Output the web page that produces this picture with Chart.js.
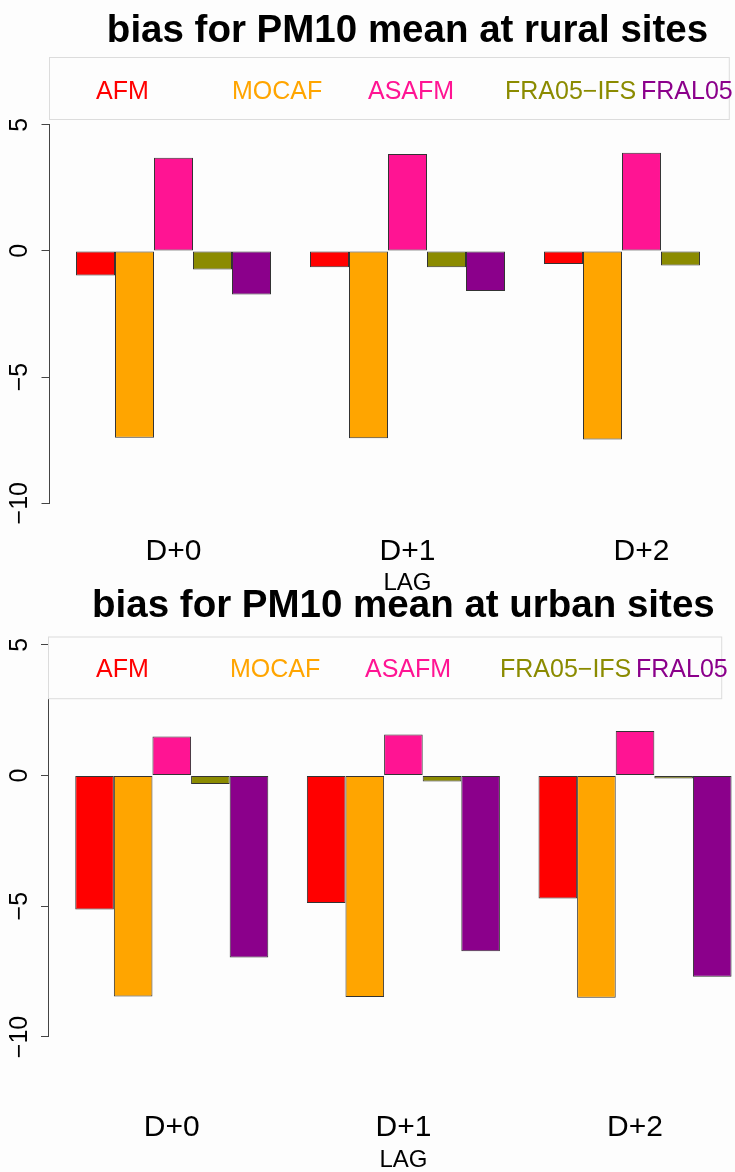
<!DOCTYPE html>
<html>
<head>
<meta charset="utf-8">
<script src="https://cdn.jsdelivr.net/npm/chart.js@4.4.1/dist/chart.umd.min.js"></script>
<style>
    html, body { margin: 0; padding: 0; background: #fdfdfd; }
    body { width: 735px; height: 1172px; overflow: hidden; position: relative; }
    canvas { position: absolute; left: 0; }
</style>
</head>
<body>
<canvas id="rural" width="780" height="600" style="top:0"></canvas>
<canvas id="urban" width="780" height="592" style="top:580px"></canvas>
<script>
const models = ["AFM", "MOCAF", "ASAFM", "FRA05\u2212IFS", "FRAL05"];
const modelColors = ["#ff0000", "#ffa500", "#ff1493", "#8b8b00", "#8b008b"];
const lags = ["D+0", "D+1", "D+2"];
const yTicks = [-10, -5, 0, 5];

// bias per model, one value per lag (D+0, D+1, D+2)
const ruralAFM = [-0.97, -0.65, -0.52];
const ruralMOCAF = [-7.40, -7.42, -7.47];
const ruralASAFM = [3.69, 3.84, 3.89];
const ruralFRA05IFS = [-0.74, -0.65, -0.58];
const ruralFRAL05 = [-1.73, -1.59, null];

const urbanAFM = [-5.13, -4.88, -4.71];
const urbanMOCAF = [-8.45, -8.47, -8.50];
const urbanASAFM = [1.49, 1.57, 1.70];
const urbanFRA05IFS = [-0.33, -0.23, -0.12];
const urbanFRAL05 = [-6.96, -6.72, -7.70];

Chart.defaults.font.family = "'Liberation Sans', Arial, Helvetica, sans-serif";
Chart.defaults.color = "#000";

// R barplot(beside=TRUE) layout: one empty bar-width before each group
const groupSize = models.length + 1;
const groupCenter = (i) => 1 + models.length / 2 + i * groupSize;
const span = lags.length * groupSize - 1;
const xMin = 1 - 0.04 * span;
const xMax = lags.length * groupSize + 0.04 * span;

const fmt = (v) => (v < 0 ? "\u2212" + Math.abs(v) : String(v));

const decor = (frame) => ({
    id: "decor",
    afterDraw(chart) {
        const { ctx, chartArea, scales } = chart;
        const y = scales.y;
        ctx.save();
        // axis line only over the labelled range, like R's axis()
        ctx.strokeStyle = "#444";
        ctx.lineWidth = 1;
        const xa = Math.round(chartArea.left) - 0.5;
        ctx.beginPath();
        ctx.moveTo(xa, y.getPixelForValue(Math.max(...yTicks)));
        ctx.lineTo(xa, y.getPixelForValue(Math.min(...yTicks)));
        ctx.stroke();

        ctx.fillStyle = "#000";
        ctx.font = "bold 38.5px 'Liberation Sans', Arial, sans-serif";
        ctx.textAlign = "center";
        ctx.textBaseline = "alphabetic";
        ctx.fillText(frame.title, (chartArea.left + chartArea.right) / 2, frame.titleBaseline);

        ctx.strokeStyle = "#dcdcdc";
        ctx.strokeRect(xa, frame.legendTop + 0.5, frame.legendRight - xa, frame.legendBottom - frame.legendTop);
        ctx.font = "25px 'Liberation Sans', Arial, sans-serif";
        ctx.textAlign = "left";
        models.forEach((name, k) => {
            ctx.fillStyle = modelColors[k];
            ctx.fillText(name, frame.legendX[k], frame.legendBaseline);
        });
        ctx.restore();
    },
});

const makeChart = (id, series, frame) => {
    const canvas = document.getElementById(id);
    return new Chart(canvas, {
        type: "bar",
        data: {
            datasets: models.map((name, k) => ({
                label: name,
                data: series[k].map((v, i) => ({ x: groupCenter(i), y: v })),
                backgroundColor: modelColors[k],
                borderColor: "#333",
                borderWidth: 1,
                borderSkipped: false,
                categoryPercentage: models.length / groupSize,
                barPercentage: 1,
            })),
        },
        options: {
            responsive: false,
            animation: false,
            devicePixelRatio: 1,
            layout: { padding: { left: 0, top: frame.top, right: canvas.width - frame.right, bottom: 0 } },
            plugins: { legend: { display: false }, tooltip: { enabled: false }, title: { display: false } },
            scales: {
                x: {
                    type: "linear",
                    offset: false,
                    min: xMin,
                    max: xMax,
                    afterBuildTicks: (s) => { s.ticks = lags.map((_, i) => ({ value: groupCenter(i) })); },
                    afterFit: (s) => { s.height = canvas.height - frame.bottom; },
                    grid: { display: false, drawTicks: false, offset: false },
                    border: { display: false },
                    ticks: {
                        padding: 18,
                        font: { size: 30, lineHeight: 1 },
                        maxRotation: 0,
                        callback: (v, i) => lags[i],
                    },
                    title: {
                        display: true,
                        text: "LAG",
                        font: { size: 24, lineHeight: 1 },
                        padding: { top: 0, bottom: frame.lagPad },
                    },
                },
                y: {
                    min: frame.yMin,
                    max: frame.yMax,
                    afterBuildTicks: (s) => { s.ticks = yTicks.map((v) => ({ value: v })); },
                    afterFit: (s) => { s.width = frame.left; },
                    grid: { drawOnChartArea: false, drawTicks: true, tickLength: 8, color: "#444" },
                    border: { display: false },
                    ticks: {
                        minRotation: 90,
                        maxRotation: 90,
                        crossAlign: "center",
                        padding: 0,
                        font: { size: 25 },
                        callback: (v) => fmt(v),
                    },
                },
            },
        },
        plugins: [decor(frame)],
    });
};

makeChart("rural", [ruralAFM, ruralMOCAF, ruralASAFM, ruralFRA05IFS, ruralFRAL05], {
    title: "bias for PM10 mean at rural sites",
    titleBaseline: 42,
    left: 49.5, right: 765.5, top: 109.6, bottom: 518.4,
    yMin: -10.6, yMax: 5.6,
    lagPad: 4.7,
    legendTop: 57, legendBottom: 119, legendRight: 729.3, legendBaseline: 98.5,
    legendX: [96, 232, 368, 505, 641],
});

makeChart("urban", [urbanAFM, urbanMOCAF, urbanASAFM, urbanFRA05IFS, urbanFRAL05], {
    title: "bias for PM10 mean at urban sites",
    titleBaseline: 37.3,
    left: 49.0, right: 757.8, top: 49.0, bottom: 514.5,
    yMin: -12.2, yMax: 5.6,
    lagPad: 0,
    legendTop: 56.5, legendBottom: 118.2, legendRight: 721.7, legendBaseline: 96.7,
    legendX: [96, 230, 365, 500, 636],
});
</script>
</body>
</html>
